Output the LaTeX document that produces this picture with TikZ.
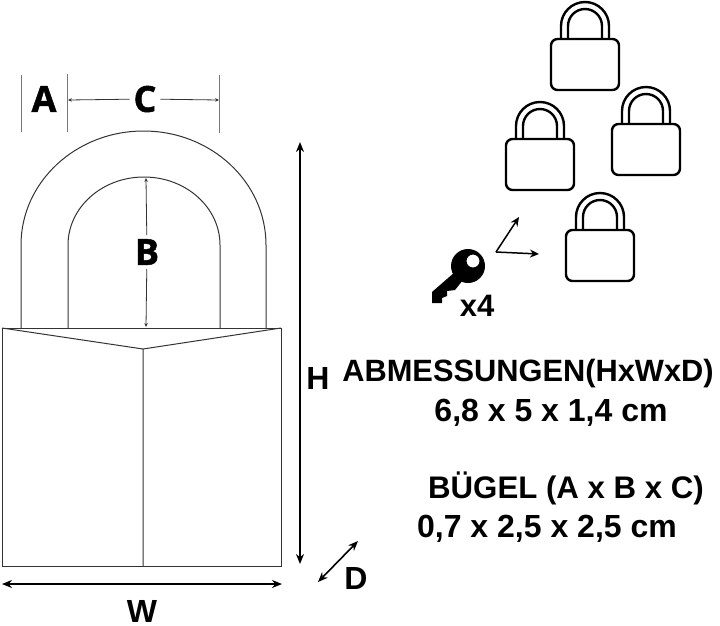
\documentclass[tikz,border=0pt]{standalone}
\usepackage{fontspec}
\setmainfont{Liberation Sans}
\newfontfamily\dimfont[BoldFeatures={FakeBold=1.3}]{Open Sans}
\usepackage{xcolor}
\usetikzlibrary{positioning, arrows.meta}

\definecolor{outline}{HTML}{333333}
\definecolor{tick}{HTML}{777777}

\tikzset{
    dimletter/.style = {inner sep = 0pt, outer sep = 4pt, font = \dimfont\fontsize{36}{36}\selectfont\bfseries},
    sizeletter/.style = {inner sep = 0pt, font = \fontsize{32}{32}\selectfont\bfseries},
    infotext/.style = {inner sep = 0pt, anchor = base, font = \fontsize{#1}{#1}\selectfont\bfseries},
    thintip/.style = {-{Stealth[length = 4pt, width = 3.5pt]}, outline, line width = 0.8pt},
    fatarrow/.style = {-{Stealth[length = 9pt, width = 8pt]}, line width = 1.5pt},
    bothtips/.style = {{Stealth[length = 10pt, width = 8pt]}-{Stealth[length = 10pt, width = 8pt]}, line width = 1.6pt},
    smalllock/.pic = {
        \draw [line width = 2.4pt, rounded corners = 6.5pt] (-34,0) rectangle (34,51);
        \draw [line width = 2.4pt] (-24,0) -- (-24,-13) arc [start angle = 180, end angle = 0, radius = 24pt] -- (24,0);
        \draw [line width = 2.4pt] (-17,0) -- (-17,-13) arc [start angle = 180, end angle = 0, radius = 17pt] -- (17,0);
    }
}

\begin{document}
\begin{tikzpicture} [x = 1pt, y = -1pt]

        \useasboundingbox (0,0) rectangle (720,625);

        % big lock
        \draw [outline, line width = 1pt] (2,328) rectangle (281,566);
        \draw [outline, line width = 1pt] (2,328) -- (143,349) -- (281,328) (143,349) -- (143,566);
        \draw [outline, line width = 1pt] (21,328) -- (21,245)
            arc [start angle = 180, end angle = 0, x radius = 122.5pt, y radius = 114pt] -- (266,328);
        \draw [outline, line width = 1pt] (68,328) -- (68,245)
            arc [start angle = 180, end angle = 0, x radius = 76pt, y radius = 68pt] -- (220,328);

        % letters
        \node (a) [dimletter] at (44,99) {A}; \node (c) [dimletter] at (145,99) {C};
        \node (b) [dimletter] at (147,252) {B}; \node (h) [sizeletter] at (318,378) {H};
        \node (w) [sizeletter] at (142,611) {W}; \node (d) [sizeletter] at (356,578) {D};

        % free ends of the dimension lines
        \coordinate (a0) at (21,75); \coordinate (a1) at (21,132);
        \coordinate (c0) at (67,74); \coordinate (c1) at (67,132);
        \coordinate (c2) at (219.5,75); \coordinate (c3) at (219.5,133);
        \coordinate (cl) at (68,100); \coordinate (cr) at (219,100);
        \coordinate (bt) at (146,178); \coordinate (bb) at (146,327);
        \coordinate (ht) at (300,142); \coordinate (hb) at (300,564);
        \coordinate (wl) at (2,584); \coordinate (wr) at (282,584);
        \coordinate (dl) at (318,582); \coordinate (dr) at (358,541);

        \path [tick, line width = 0.7pt]
            (a0) edge (a1)
            (c0) edge (c1)
            (c2) edge (c3);

        \path [thintip]
            (c) edge (cl)
            (c) edge (cr)
            (b) edge (bt)
            (b) edge (bb);

        \path [bothtips]
            (ht) edge (hb)
            (wl) edge (wr)
            (dl) edge (dr);

        % small locks
        \pic at (585,39) {smalllock};
        \pic at (646,124) {smalllock};
        \pic at (540,139) {smalllock};
        \pic at (600,230) {smalllock};

        % key
        \fill (455,272) -- (432,292) -- (432,303) -- (442,303) -- (442,298) -- (447,296)
            -- (447,291) -- (455,290) -- (463,280) -- cycle;
        \fill [even odd rule] (468,266) circle [radius = 17pt] (473,261) circle [radius = 6.5pt];
        \node (keys) [inner sep = 0pt, font = \fontsize{31}{31}\selectfont\bfseries] at (477,306) {x4};

        \coordinate (o) at (496,252); \coordinate (e1) at (519,217); \coordinate (e2) at (539,254);
        \path [fatarrow]
            (o) edge (e1)
            (o) edge (e2);

        % text
        \node (dims) [infotext = 30.8] at (528,381) {ABMESSUNGEN(HxWxD)};
        \node (dimv) [infotext = 32] at (551,421) {6,8 x 5 x 1,4 cm};
        \node (bugel) [infotext = 31.2] at (566,498) {BÜGEL (A x B x C)};
        \node (bugelv) [infotext = 32] at (547,537) {0,7 x 2,5 x 2,5 cm};

    \end{tikzpicture}
\end{document}
